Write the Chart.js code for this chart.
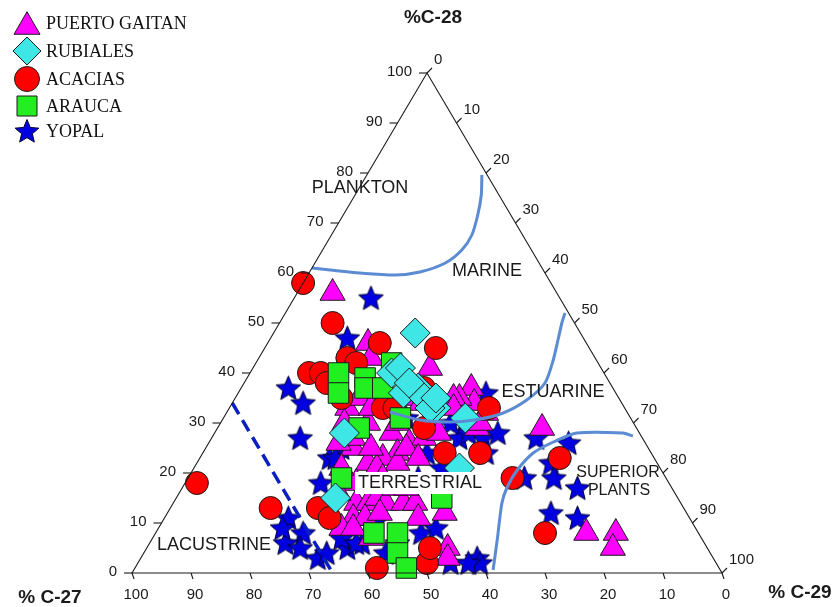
<!DOCTYPE html>
<html>
<head>
<title>Sterane C27-C28-C29 ternary</title>
<script src="https://cdn.jsdelivr.net/npm/chart.js"></script>
<style>
  body { margin: 0; background: #fff; }
  #wrap { width: 838px; height: 607px; }
</style>
</head>
<body>
<div id="wrap"><canvas id="ternary" width="838" height="607"></canvas></div>
<script>
// every sample is [%C-27, %C-28, %C-29]
const puertoGaitan = [
  [38,56,6],[37,46,17],[38,43,19],[29,41,30],[24,37,39],[25,34,41],[27,29,44],[16,29,55],
  [41,12,47],[44,5,51],[45,3,52],[19,8,73],[14,8,78],[16,5,79],[27,35,38],[28,35,37],
  [29,33,38],[26,30,44],[24,32,44],[47,33,20],[49,30,21],[44,35,21],[40,36,24],[36,35,29],
  [45,30,25],[42,28,30],[40,30,30],[43,24,33],[46,23,31],[44,22,34],[55,14,31],[53,14,33],
  [51,15,34],[50,14,36],[47,14,39],[45,14,41],[57,11,32],[55,11,34],[52,12,36],[60,9,31],
  [58,9,33],[50,25,25],[49,22,29],[48,21,31],[40,26,34],[37,27,36],[53,18,29],[47,17,36],
  [54,21,25],[57,16,27],[49,27,24],[34,28,38],[43,33,24],[34,34,32],[52,26,22],[41,25,34],
  [40,23,37],[47,25,28],[48,19,33],[45,17,38],[46,11,43],[56,7,37]
];
const rubiales = [
  [28,48,24],[36,40,24],[34,41,25],[36,36,28],[33,37,30],[33,35,32],[32,33,35],[33,33,34],
  [28,31,41],[50,28,22],[58,15,27],[34,21,45],[34,38,28],[31,35,34]
];
const acacias = [
  [42,58,0],[41,50,9],[35,46,19],[26,45,29],[42,43,15],[41,42,17],[50,40,10],[48,40,12],
  [48,38,14],[41,33,26],[36,29,35],[23,33,44],[32,37,31],[35,24,41],[29,24,47],[70,13,17],
  [80,18,2],[62,13,25],[61,11,28],[58,1,41],[49,2,49],[26,19,55],[16,23,61],[26,8,66],
  [47,5,48],[47,35,18],[39,33,28]
];
const arauca = [
  [45,40,15],[47,36,17],[41,39,20],[42,37,21],[35,42,23],[35,40,25],[39,37,24],[39,31,30],
  [47,29,24],[55,19,26],[40,15,45],[55,8,37],[51,8,41],[53,4,43],[53,1,46]
];
const yopal = [
  [32,55,13],[40,47,13],[55,37,8],[54,34,12],[58,27,15],[68,11,21],[67,8,25],[71,6,23],
  [69,5,26],[67,3,30],[70,9,21],[18,27,55],[13,26,61],[18,22,60],[19,19,62],[16,17,67],
  [23,12,65],[19,11,70],[24,19,57],[40,3,57],[40,2,58],[38,24,38],[31,27,42],[27,27,46],
  [36,19,45],[55,23,22],[59,18,23],[61,5,34],[58,6,36],[47,8,45],[44,9,47],[65,4,31],
  [38,31,31],[22,36,42],[29,28,43],[55,4,41],[45,2,54],[61,7,32],[31,30,39],[24,28,48],
  [42,19,39],[52,25,23],[52,6,42],[54,23,23],[59,6,35],[42,2,56],[37,21,42],[28,24,48],
  [54,10,36]
];

// depositional environment boundaries, same component order
const planktonMarine = [
  [39,61,0],[36.1,60.6,3.3],[31.4,60,8.6],[25.6,59.6,14.8],[21.1,60.2,18.7],[15.9,62,22.1],
  [11.8,64.6,23.6],[8.6,67.6,23.8],[5.6,71.6,22.8],[3,75.6,21.4],[0.9,79.6,19.5]
];
const marineEstuarine = [
  [40.2,32.2,27.6],[35.9,30.6,33.5],[31,30.2,38.8],[26.6,30.6,42.8],[21.1,32,46.9],
  [15.8,34.6,49.6],[11,38,51],[7.3,42.6,50.1],[4.5,46.6,48.9],[2,50.2,47.8],[0.6,52,47.4]
];
const terrestrialPlants = [
  [38.5,0.6,60.9],[34.8,6.6,58.6],[30.3,14,55.7],[27.8,17.2,55],[24.4,20.6,55],[20,24,56],
  [15.5,26.2,58.3],[10.6,28,61.4],[2.8,28,69.2],[1.4,27.4,71.2]
];
const lacustrineLine = [[66,34,0],[66,0,34]];

const axisTicks = [0,10,20,30,40,50,60,70,80,90,100];

// ternary -> cartesian (x runs 0..100 along the base, y is %C-28)
function toXY(p) { return { x: 100 - p[0] - p[1] / 2, y: p[1] }; }

function makeStar(r, fill) {
  const s = Math.ceil(r * 2 + 3);
  const c = document.createElement('canvas');
  c.width = s; c.height = s;
  const g = c.getContext('2d');
  g.beginPath();
  for (let i = 0; i < 10; i++) {
    const rr = i % 2 ? r * 0.45 : r;
    const a = -Math.PI / 2 + i * Math.PI / 5;
    g.lineTo(s / 2 + rr * Math.cos(a), s / 2 + 1 + rr * Math.sin(a));
  }
  g.closePath();
  g.fillStyle = fill; g.fill();
  g.lineWidth = 1; g.strokeStyle = '#000030'; g.stroke();
  return c;
}
const starImg = makeStar(13, '#0000e0');
const legendStar = makeStar(12.5, '#0000e0');

const COLORS = {
  gaitan: '#ff00ff', rubiales: '#3fe6e6', acacias: '#ff0000', arauca: '#22ee22', yopal: '#0000e0'
};

function pts(name, data, style, radius, color, order) {
  return {
    label: name, data: data.map(toXY), order: order, clip: false,
    pointStyle: style, pointRadius: radius, pointHoverRadius: radius,
    backgroundColor: color, borderColor: '#1a1a1a', borderWidth: 1
  };
}
function curve(data, color, dash, width) {
  return {
    data: data.map(toXY), showLine: true, order: 0, clip: false,
    pointRadius: 0, borderColor: color, borderWidth: width, borderDash: dash,
    tension: 0.25, fill: false
  };
}

function drawShape(ctx, style, x, y, r) {
  ctx.beginPath();
  if (style === 'triangle') {
    for (let i = 0; i < 3; i++) {
      const a = -Math.PI / 2 + i * 2 * Math.PI / 3;
      ctx.lineTo(x + r * Math.cos(a), y + r * 0.25 + r * Math.sin(a));
    }
    ctx.closePath();
  } else if (style === 'rectRot') {
    ctx.moveTo(x - r, y); ctx.lineTo(x, y - r); ctx.lineTo(x + r, y); ctx.lineTo(x, y + r); ctx.closePath();
  } else if (style === 'circle') {
    ctx.arc(x, y, r, 0, Math.PI * 2);
  } else if (style === 'rect') {
    ctx.rect(x - r, y - r, 2 * r, 2 * r);
  }
  ctx.fill(); ctx.stroke();
}

const legendRows = [
  { style: 'triangle', label: 'PUERTO GAITAN', color: COLORS.gaitan, r: 15, y: 23 },
  { style: 'rectRot', label: 'RUBIALES', color: COLORS.rubiales, r: 14, y: 51 },
  { style: 'circle', label: 'ACACIAS', color: COLORS.acacias, r: 12.5, y: 79 },
  { style: 'rect', label: 'ARAUCA', color: COLORS.arauca, r: 10, y: 106 },
  { style: 'star', label: 'YOPAL', color: COLORS.yopal, r: 12, y: 131 }
];

const ternaryFrame = {
  id: 'ternaryFrame',
  afterDatasetsDraw(chart) {
    const ctx = chart.ctx;
    const xs = chart.scales.x, ys = chart.scales.y;
    const P = (c27, c28) => [xs.getPixelForValue(100 - c27 - c28 / 2), ys.getPixelForValue(c28)];
    const line = (x1, y1, x2, y2) => { ctx.beginPath(); ctx.moveTo(x1, y1); ctx.lineTo(x2, y2); ctx.stroke(); };
    ctx.save();
    ctx.strokeStyle = '#1a1a1a';
    ctx.lineWidth = 1.1;
    const A = P(100, 0), B = P(0, 100), C = P(0, 0);
    ctx.beginPath(); ctx.moveTo(A[0], A[1]); ctx.lineTo(B[0], B[1]); ctx.lineTo(C[0], C[1]); ctx.closePath(); ctx.stroke();

    ctx.fillStyle = '#1a1a1a';
    ctx.font = '15px "Liberation Sans", Arial, sans-serif';
    ctx.textBaseline = 'middle';
    axisTicks.forEach(v => {
      let p = P(v, 0);                       // base: %C-27
      line(p[0], p[1], p[0] + 2, p[1] + 6);
      ctx.textAlign = 'center';
      ctx.fillText(String(v), p[0] + 4, p[1] + 22);
      p = P(100 - v, v);                     // left side: %C-28
      line(p[0], p[1], p[0] - 8, p[1]);
      ctx.textAlign = 'right';
      ctx.fillText(String(v), p[0] - 15, p[1] - 1);
      p = P(0, 100 - v);                     // right side: %C-29
      line(p[0], p[1], p[0] + 5, p[1] - 5);
      ctx.textAlign = 'left';
      ctx.fillText(String(v), p[0] + 7, p[1] - 13);
    });

    // axis titles
    ctx.font = 'bold 19px "Liberation Sans", Arial, sans-serif';
    ctx.textAlign = 'center';
    ctx.fillText('%C-28', 433, 18);
    ctx.fillText('% C-27', 50, 598);
    ctx.fillText('% C-29', 800, 593);

    // environment names
    ctx.font = '18px "Liberation Sans", Arial, sans-serif';
    ctx.fillText('PLANKTON', 360, 188);
    ctx.fillText('MARINE', 487, 271);
    ctx.fillText('ESTUARINE', 553, 392);
    ctx.fillText('LACUSTRINE', 214, 545);
    const tw = ctx.measureText('TERRESTRIAL').width;
    ctx.fillStyle = '#fff';
    ctx.fillRect(420 - tw / 2 - 3, 472, tw + 6, 22);
    ctx.fillStyle = '#1a1a1a';
    ctx.fillText('TERRESTRIAL', 420, 483);
    ctx.font = '16px "Liberation Sans", Arial, sans-serif';
    ctx.fillText('SUPERIOR', 618, 473);
    ctx.fillText('PLANTS', 619, 491);

    // legend
    ctx.textAlign = 'left';
    ctx.font = '18px "Liberation Serif", "Times New Roman", serif';
    legendRows.forEach(row => {
      ctx.fillStyle = row.color;
      ctx.strokeStyle = '#1a1a1a';
      ctx.lineWidth = 1;
      if (row.style === 'star') {
        ctx.drawImage(legendStar, 27 - legendStar.width / 2, row.y - legendStar.height / 2);
      } else {
        drawShape(ctx, row.style, 27, row.y, row.r);
      }
      ctx.fillStyle = '#111';
      ctx.fillText(row.label, 46, row.y + 1);
    });
    ctx.restore();
  }
};

new Chart(document.getElementById('ternary'), {
  type: 'scatter',
  data: {
    datasets: [
      pts('YOPAL', yopal, starImg, 13, COLORS.yopal, 5),
      pts('PUERTO GAITAN', puertoGaitan, 'triangle', 14.5, COLORS.gaitan, 4),
      pts('ACACIAS', acacias, 'circle', 11.5, COLORS.acacias, 3),
      pts('ARAUCA', arauca, 'rect', 14.5, COLORS.arauca, 2),
      pts('RUBIALES', rubiales, 'rectRot', 15, COLORS.rubiales, 1),
      curve(planktonMarine, '#5b8bd2', [], 3),
      curve(marineEstuarine, '#5b8bd2', [], 3),
      curve(terrestrialPlants, '#5b8bd2', [], 3),
      curve(lacustrineLine, '#0a1fc0', [13, 7], 3.5)
    ]
  },
  options: {
    responsive: false,
    animation: false,
    events: [],
    layout: { padding: { left: 132, right: 116, top: 73, bottom: 34 } },
    plugins: { legend: { display: false }, tooltip: { enabled: false } },
    scales: {
      x: { type: 'linear', min: 0, max: 100, display: false },
      y: { type: 'linear', min: 0, max: 100, display: false }
    }
  },
  plugins: [ternaryFrame]
});
</script>
</body>
</html>
